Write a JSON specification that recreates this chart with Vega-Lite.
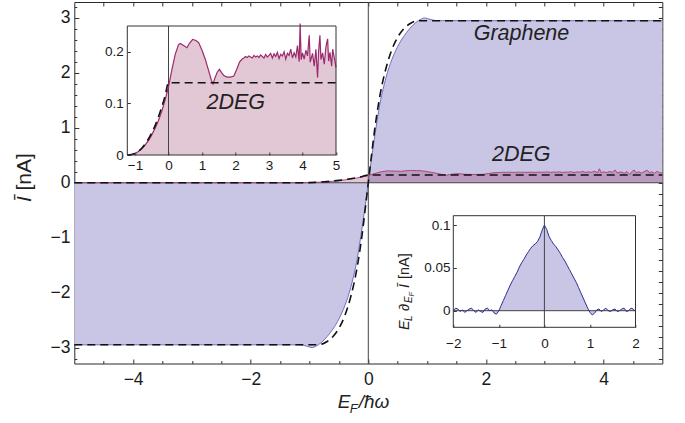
{
  "$schema": "https://vega.github.io/schema/vega-lite/v6.json",
  "width": 588,
  "height": 361.5,
  "autosize": "none",
  "padding": {"left": 74.3, "top": 2, "right": 22.7, "bottom": 59.5},
  "config": {
    "view": {"stroke": "#2a2a2a", "strokeWidth": 1},
    "axis": {"grid": false, "labelFont": "Liberation Sans", "labelColor": "#1a1a1a", "tickColor": "#333333", "domainColor": "#333333", "labelFlush": false, "labelOverlap": false, "labelBound": false}
  },
  "datasets": {
    "gr": [
      {"x": -5, "y": -2.95}, {"x": -1.2, "y": -2.95}, {"x": -1.1, "y": -2.96}, {"x": -1.0, "y": -2.99}, {"x": -0.95, "y": -3.0}, {"x": -0.9, "y": -2.98}, {"x": -0.8, "y": -2.91}, {"x": -0.7, "y": -2.8}, {"x": -0.6, "y": -2.66}, {"x": -0.5, "y": -2.48}, {"x": -0.4, "y": -2.24}, {"x": -0.35, "y": -2.09}, {"x": -0.3, "y": -1.91}, {"x": -0.25, "y": -1.7}, {"x": -0.2, "y": -1.45}, {"x": -0.15, "y": -1.13}, {"x": -0.1, "y": -0.78}, {"x": -0.05, "y": -0.4},
      {"x": 0, "y": 0},
      {"x": 0.05, "y": 0.4}, {"x": 0.1, "y": 0.78}, {"x": 0.15, "y": 1.13}, {"x": 0.2, "y": 1.45}, {"x": 0.25, "y": 1.7}, {"x": 0.3, "y": 1.91}, {"x": 0.35, "y": 2.09}, {"x": 0.4, "y": 2.24}, {"x": 0.5, "y": 2.48}, {"x": 0.6, "y": 2.66}, {"x": 0.7, "y": 2.8}, {"x": 0.8, "y": 2.91}, {"x": 0.9, "y": 2.98}, {"x": 0.95, "y": 3.0}, {"x": 1.0, "y": 2.99}, {"x": 1.1, "y": 2.96}, {"x": 1.2, "y": 2.95}, {"x": 5, "y": 2.95}
    ],
    "grfit": [
      {"x": -5, "y": -2.95}, {"x": -0.9, "y": -2.95}, {"x": -0.8, "y": -2.94}, {"x": -0.7, "y": -2.89}, {"x": -0.6, "y": -2.8}, {"x": -0.5, "y": -2.65}, {"x": -0.4, "y": -2.42}, {"x": -0.3, "y": -2.08}, {"x": -0.2, "y": -1.6}, {"x": -0.15, "y": -1.28}, {"x": -0.1, "y": -0.9}, {"x": -0.05, "y": -0.46},
      {"x": 0, "y": 0},
      {"x": 0.05, "y": 0.46}, {"x": 0.1, "y": 0.9}, {"x": 0.15, "y": 1.28}, {"x": 0.2, "y": 1.6}, {"x": 0.3, "y": 2.08}, {"x": 0.4, "y": 2.42}, {"x": 0.5, "y": 2.65}, {"x": 0.6, "y": 2.8}, {"x": 0.7, "y": 2.89}, {"x": 0.8, "y": 2.94}, {"x": 0.9, "y": 2.95}, {"x": 5, "y": 2.95}
    ],
    "deg": [
      {"x": -5, "y": 0}, {"x": -1.5, "y": 0}, {"x": -1.23, "y": 0}, {"x": -1.1, "y": 0.001}, {"x": -1.0, "y": 0.003}, {"x": -0.9, "y": 0.007}, {"x": -0.8, "y": 0.012}, {"x": -0.7, "y": 0.019}, {"x": -0.6, "y": 0.028}, {"x": -0.5, "y": 0.039}, {"x": -0.4, "y": 0.052}, {"x": -0.3, "y": 0.067}, {"x": -0.2, "y": 0.085}, {"x": -0.1, "y": 0.107},
      {"x": 0, "y": 0.132}, {"x": 0.1, "y": 0.165}, {"x": 0.2, "y": 0.195}, {"x": 0.3, "y": 0.214}, {"x": 0.35, "y": 0.216}, {"x": 0.45, "y": 0.212}, {"x": 0.55, "y": 0.208}, {"x": 0.62, "y": 0.216}, {"x": 0.72, "y": 0.224}, {"x": 0.82, "y": 0.222}, {"x": 0.9, "y": 0.218}, {"x": 1.0, "y": 0.203}, {"x": 1.1, "y": 0.185}, {"x": 1.2, "y": 0.163}, {"x": 1.28, "y": 0.145}, {"x": 1.33, "y": 0.138}, {"x": 1.38, "y": 0.148}, {"x": 1.45, "y": 0.16}, {"x": 1.52, "y": 0.166}, {"x": 1.58, "y": 0.16}, {"x": 1.65, "y": 0.154}, {"x": 1.75, "y": 0.151}, {"x": 1.85, "y": 0.151}, {"x": 1.95, "y": 0.153}, {"x": 2.05, "y": 0.168}, {"x": 2.12, "y": 0.18}, {"x": 2.2, "y": 0.186},
      {"x": 2.25, "y": 0.188}, {"x": 2.3, "y": 0.191}, {"x": 2.35, "y": 0.189}, {"x": 2.4, "y": 0.192}, {"x": 2.45, "y": 0.19}, {"x": 2.5, "y": 0.188}, {"x": 2.55, "y": 0.193}, {"x": 2.6, "y": 0.19}, {"x": 2.65, "y": 0.192}, {"x": 2.7, "y": 0.189}, {"x": 2.75, "y": 0.194}, {"x": 2.8, "y": 0.191}, {"x": 2.85, "y": 0.188}, {"x": 2.9, "y": 0.195}, {"x": 2.95, "y": 0.19}, {"x": 3.0, "y": 0.193}, {"x": 3.05, "y": 0.197}, {"x": 3.1, "y": 0.188}, {"x": 3.15, "y": 0.196}, {"x": 3.2, "y": 0.191}, {"x": 3.25, "y": 0.199}, {"x": 3.3, "y": 0.187}, {"x": 3.35, "y": 0.195}, {"x": 3.4, "y": 0.192}, {"x": 3.45, "y": 0.2}, {"x": 3.5, "y": 0.186}, {"x": 3.55, "y": 0.197}, {"x": 3.6, "y": 0.193}, {"x": 3.65, "y": 0.205}, {"x": 3.7, "y": 0.188}, {"x": 3.75, "y": 0.198}, {"x": 3.8, "y": 0.19}, {"x": 3.85, "y": 0.212}, {"x": 3.9, "y": 0.181}, {"x": 3.93, "y": 0.255}, {"x": 3.96, "y": 0.185}, {"x": 4.0, "y": 0.198}, {"x": 4.05, "y": 0.186}, {"x": 4.1, "y": 0.203}, {"x": 4.15, "y": 0.192}, {"x": 4.2, "y": 0.232}, {"x": 4.23, "y": 0.18}, {"x": 4.3, "y": 0.197}, {"x": 4.35, "y": 0.172}, {"x": 4.4, "y": 0.205}, {"x": 4.45, "y": 0.15}, {"x": 4.48, "y": 0.2}, {"x": 4.52, "y": 0.232}, {"x": 4.55, "y": 0.185}, {"x": 4.6, "y": 0.198}, {"x": 4.65, "y": 0.176}, {"x": 4.7, "y": 0.21}, {"x": 4.75, "y": 0.225}, {"x": 4.78, "y": 0.182}, {"x": 4.82, "y": 0.199}, {"x": 4.87, "y": 0.172}, {"x": 4.9, "y": 0.205}, {"x": 4.95, "y": 0.188}, {"x": 5.0, "y": 0.17}
    ],
    "degfit": [
      {"x": -5, "y": 0}, {"x": -1.23, "y": 0}, {"x": -1.1, "y": 0.001}, {"x": -1.0, "y": 0.003}, {"x": -0.9, "y": 0.007}, {"x": -0.8, "y": 0.013}, {"x": -0.7, "y": 0.021}, {"x": -0.6, "y": 0.031}, {"x": -0.5, "y": 0.043}, {"x": -0.4, "y": 0.057}, {"x": -0.3, "y": 0.074}, {"x": -0.2, "y": 0.093}, {"x": -0.1, "y": 0.115}, {"x": 0, "y": 0.14}, {"x": 5, "y": 0.14}
    ],
    "der": [
      {"x": -2.0, "y": 0.0}, {"x": -1.95, "y": 0.003}, {"x": -1.9, "y": 0.002}, {"x": -1.85, "y": -0.001}, {"x": -1.8, "y": 0.001}, {"x": -1.75, "y": -0.002}, {"x": -1.7, "y": 0.0}, {"x": -1.65, "y": 0.002}, {"x": -1.6, "y": 0.003}, {"x": -1.55, "y": 0.0}, {"x": -1.5, "y": -0.002}, {"x": -1.45, "y": 0.001}, {"x": -1.4, "y": -0.001}, {"x": -1.35, "y": -0.002}, {"x": -1.3, "y": 0.002}, {"x": -1.25, "y": 0.003}, {"x": -1.2, "y": 0.0}, {"x": -1.15, "y": 0.001}, {"x": -1.1, "y": -0.003}, {"x": -1.05, "y": -0.004}, {"x": -1.0, "y": 0.0}, {"x": -0.95, "y": 0.006}, {"x": -0.9, "y": 0.012}, {"x": -0.85, "y": 0.018}, {"x": -0.8, "y": 0.024}, {"x": -0.75, "y": 0.03}, {"x": -0.7, "y": 0.035}, {"x": -0.65, "y": 0.04}, {"x": -0.6, "y": 0.045}, {"x": -0.55, "y": 0.051}, {"x": -0.5, "y": 0.056}, {"x": -0.45, "y": 0.06}, {"x": -0.4, "y": 0.065}, {"x": -0.35, "y": 0.069}, {"x": -0.3, "y": 0.073}, {"x": -0.25, "y": 0.076}, {"x": -0.2, "y": 0.078}, {"x": -0.15, "y": 0.081}, {"x": -0.1, "y": 0.086}, {"x": -0.05, "y": 0.094}, {"x": 0.0, "y": 0.1}, {"x": 0.05, "y": 0.095}, {"x": 0.1, "y": 0.087}, {"x": 0.15, "y": 0.082}, {"x": 0.2, "y": 0.078}, {"x": 0.25, "y": 0.075}, {"x": 0.3, "y": 0.071}, {"x": 0.35, "y": 0.067}, {"x": 0.4, "y": 0.062}, {"x": 0.45, "y": 0.058}, {"x": 0.5, "y": 0.053}, {"x": 0.55, "y": 0.048}, {"x": 0.6, "y": 0.043}, {"x": 0.65, "y": 0.038}, {"x": 0.7, "y": 0.033}, {"x": 0.75, "y": 0.027}, {"x": 0.8, "y": 0.021}, {"x": 0.85, "y": 0.015}, {"x": 0.9, "y": 0.009}, {"x": 0.95, "y": 0.003}, {"x": 1.0, "y": -0.002}, {"x": 1.05, "y": -0.005}, {"x": 1.1, "y": -0.003}, {"x": 1.15, "y": 0.001}, {"x": 1.2, "y": 0.002}, {"x": 1.25, "y": -0.001}, {"x": 1.3, "y": 0.001}, {"x": 1.35, "y": 0.003}, {"x": 1.4, "y": 0.0}, {"x": 1.45, "y": -0.001}, {"x": 1.5, "y": 0.001}, {"x": 1.55, "y": 0.002}, {"x": 1.6, "y": -0.001}, {"x": 1.65, "y": 0.0}, {"x": 1.7, "y": 0.002}, {"x": 1.75, "y": 0.003}, {"x": 1.8, "y": -0.001}, {"x": 1.85, "y": 0.0}, {"x": 1.9, "y": 0.003}, {"x": 1.95, "y": 0.002}, {"x": 2.0, "y": -0.001}
    ]
  },
  "layer": [
    {
      "layer": [
        {
          "data": {"name": "gr"},
          "mark": {"type": "area", "color": "#c9c5e5", "interpolate": "monotone"},
          "encoding": {
            "x": {"field": "x", "type": "quantitative", "scale": {"domain": [-5, 5], "nice": false, "zero": false},
              "axis": {"orient": "bottom", "title": null, "domain": false, "values": [-4, -2, 0, 2, 4], "format": "d", "labelOverlap": false, "labelFlush": false, "tickSize": -4.5, "labelPadding": 11.4, "labelFontSize": 17.5}},
            "y": {"field": "y", "type": "quantitative", "scale": {"domain": [-3.29, 3.29], "nice": false, "zero": false},
              "axis": {"orient": "left", "title": null, "domain": false, "values": [-3, -2, -1, 0, 1, 2, 3], "format": "d", "labelOverlap": false, "labelFlush": false, "tickSize": -4.5, "labelPadding": 8.8, "labelFontSize": 17.5}},
            "y2": {"datum": 0}
          }
        },
        {
          "data": {"name": "deg"},
          "mark": {"type": "area", "color": "#8c1e55", "opacity": 0.25},
          "encoding": {
            "x": {"field": "x", "type": "quantitative", "scale": {"domain": [-5, 5], "nice": false, "zero": false}},
            "y": {"field": "y", "type": "quantitative", "scale": {"domain": [-3.29, 3.29], "nice": false, "zero": false}},
            "y2": {"datum": 0}
          }
        },
        {
          "data": {"values": [{}]},
          "mark": {"type": "rule", "color": "#444444", "strokeWidth": 1},
          "encoding": {
            "x": {"datum": 0, "type": "quantitative", "scale": {"domain": [-5, 5], "nice": false, "zero": false}},
            "y": {"datum": -3.29, "type": "quantitative", "scale": {"domain": [-3.29, 3.29], "nice": false, "zero": false}},
            "y2": {"datum": 3.29}
          }
        },
        {
          "data": {"values": [{}]},
          "mark": {"type": "rule", "color": "#444444", "strokeWidth": 1},
          "encoding": {
            "x": {"datum": -5, "type": "quantitative", "scale": {"domain": [-5, 5], "nice": false, "zero": false}},
            "x2": {"datum": 5},
            "y": {"datum": 0, "type": "quantitative", "scale": {"domain": [-3.29, 3.29], "nice": false, "zero": false}}
          }
        },
        {
          "data": {"name": "gr"},
          "mark": {"type": "line", "color": "#6f6fc4", "strokeWidth": 1, "interpolate": "monotone"},
          "encoding": {
            "x": {"field": "x", "type": "quantitative", "scale": {"domain": [-5, 5], "nice": false, "zero": false}},
            "y": {"field": "y", "type": "quantitative", "scale": {"domain": [-3.29, 3.29], "nice": false, "zero": false}}
          }
        },
        {
          "data": {"name": "deg"},
          "mark": {"type": "line", "color": "#b2457f", "strokeWidth": 1},
          "encoding": {
            "x": {"field": "x", "type": "quantitative", "scale": {"domain": [-5, 5], "nice": false, "zero": false}},
            "y": {"field": "y", "type": "quantitative", "scale": {"domain": [-3.29, 3.29], "nice": false, "zero": false}}
          }
        },
        {
          "data": {"name": "grfit"},
          "mark": {"type": "line", "color": "#111111", "strokeWidth": 1.6, "strokeDash": [8, 5], "interpolate": "monotone"},
          "encoding": {
            "x": {"field": "x", "type": "quantitative", "scale": {"domain": [-5, 5], "nice": false, "zero": false}},
            "y": {"field": "y", "type": "quantitative", "scale": {"domain": [-3.29, 3.29], "nice": false, "zero": false}}
          }
        },
        {
          "data": {"name": "degfit"},
          "mark": {"type": "line", "color": "#111111", "strokeWidth": 1.6, "strokeDash": [8, 5], "interpolate": "monotone"},
          "encoding": {
            "x": {"field": "x", "type": "quantitative", "scale": {"domain": [-5, 5], "nice": false, "zero": false}},
            "y": {"field": "y", "type": "quantitative", "scale": {"domain": [-3.29, 3.29], "nice": false, "zero": false}}
          }
        },
        {
          "data": {"values": [{}]},
          "mark": {"type": "text", "text": "Graphene", "font": "Liberation Sans", "fontStyle": "italic", "fontSize": 21.5, "color": "#222222", "align": "center", "baseline": "alphabetic"},
          "encoding": {
            "x": {"datum": 2.605, "type": "quantitative", "scale": {"domain": [-5, 5], "nice": false, "zero": false}},
            "y": {"datum": 2.598, "type": "quantitative", "scale": {"domain": [-3.29, 3.29], "nice": false, "zero": false}}
          }
        },
        {
          "data": {"values": [{}]},
          "mark": {"type": "text", "text": "2DEG", "font": "Liberation Sans", "fontStyle": "italic", "fontSize": 21.5, "color": "#222222", "align": "center", "baseline": "alphabetic"},
          "encoding": {
            "x": {"datum": 2.602, "type": "quantitative", "scale": {"domain": [-5, 5], "nice": false, "zero": false}},
            "y": {"datum": 0.396, "type": "quantitative", "scale": {"domain": [-3.29, 3.29], "nice": false, "zero": false}}
          }
        },
        {
          "data": {"values": [{}]},
          "mark": {"type": "text", "text": "E", "font": "Liberation Sans", "fontStyle": "italic", "fontSize": 19, "color": "#222222", "align": "left", "baseline": "alphabetic"},
          "encoding": {
            "x": {"datum": -0.52, "type": "quantitative", "scale": {"domain": [-5, 5], "nice": false, "zero": false}},
            "y": {"datum": -4.109, "type": "quantitative", "scale": {"domain": [-3.29, 3.29], "nice": false, "zero": false}}
          }
        },
        {
          "data": {"values": [{}]},
          "mark": {"type": "text", "text": "F", "font": "Liberation Sans", "fontStyle": "italic", "fontSize": 13, "color": "#222222", "align": "left", "baseline": "alphabetic", "dx": 12, "dy": 4.5},
          "encoding": {
            "x": {"datum": -0.52, "type": "quantitative", "scale": {"domain": [-5, 5], "nice": false, "zero": false}},
            "y": {"datum": -4.109, "type": "quantitative", "scale": {"domain": [-3.29, 3.29], "nice": false, "zero": false}}
          }
        },
        {
          "data": {"values": [{}]},
          "mark": {"type": "text", "text": "/ħω", "font": "Liberation Sans", "fontStyle": "italic", "fontSize": 19, "color": "#222222", "align": "left", "baseline": "alphabetic", "dx": 21},
          "encoding": {
            "x": {"datum": -0.52, "type": "quantitative", "scale": {"domain": [-5, 5], "nice": false, "zero": false}},
            "y": {"datum": -4.109, "type": "quantitative", "scale": {"domain": [-3.29, 3.29], "nice": false, "zero": false}}
          }
        },
        {
          "data": {"values": [{}]},
          "mark": {"type": "text", "text": "Ī", "font": "Liberation Sans", "fontStyle": "italic", "fontSize": 21, "color": "#222222", "align": "left", "baseline": "alphabetic", "angle": 270},
          "encoding": {
            "x": {"datum": -5.736, "type": "quantitative", "scale": {"domain": [-5, 5], "nice": false, "zero": false}},
            "y": {"datum": -0.35, "type": "quantitative", "scale": {"domain": [-3.29, 3.29], "nice": false, "zero": false}}
          }
        },
        {
          "data": {"values": [{}]},
          "mark": {"type": "text", "text": "[nA]", "font": "Liberation Sans", "fontSize": 21, "color": "#222222", "align": "left", "baseline": "alphabetic", "angle": 270, "dx": 11.5},
          "encoding": {
            "x": {"datum": -5.736, "type": "quantitative", "scale": {"domain": [-5, 5], "nice": false, "zero": false}},
            "y": {"datum": -0.35, "type": "quantitative", "scale": {"domain": [-3.29, 3.29], "nice": false, "zero": false}}
          }
        }
      ]
    },
    {
      "data": {"name": "gr"},
      "mark": {"type": "point", "opacity": 0},
      "encoding": {
        "x": {"field": "x", "type": "quantitative", "scale": {"domain": [-5, 5], "nice": false, "zero": false},
          "axis": {"orient": "top", "title": null, "domain": false, "labels": false, "values": [-4.5, -4, -3.5, -3, -2.5, -2, -1.5, -1, -0.5, 0, 0.5, 1, 1.5, 2, 2.5, 3, 3.5, 4, 4.5], "tickSize": -4}},
        "y": {"field": "y", "type": "quantitative", "scale": {"domain": [-3.29, 3.29], "nice": false, "zero": false},
          "axis": {"orient": "right", "title": null, "domain": false, "labels": false, "values": [-3.2, -3, -2.8, -2.6, -2.4, -2.2, -2, -1.8, -1.6, -1.4, -1.2, -1, -0.8, -0.6, -0.4, -0.2, 0, 0.2, 0.4, 0.6, 0.8, 1, 1.2, 1.4, 1.6, 1.8, 2, 2.2, 2.4, 2.6, 2.8, 3, 3.2], "tickSize": -4}}
      }
    },
    {
      "data": {"name": "gr"},
      "mark": {"type": "point", "opacity": 0},
      "encoding": {
        "x": {"field": "x", "type": "quantitative", "scale": {"domain": [-5, 5], "nice": false, "zero": false},
          "axis": {"orient": "bottom", "title": null, "domain": false, "labels": false, "values": [-4.5, -3.5, -3, -2.5, -1.5, -1, -0.5, 0.5, 1, 1.5, 2.5, 3, 3.5, 4.5], "tickSize": -3}},
        "y": {"field": "y", "type": "quantitative", "scale": {"domain": [-3.29, 3.29], "nice": false, "zero": false},
          "axis": {"orient": "left", "title": null, "domain": false, "labels": false, "values": [-3.2, -2.8, -2.6, -2.4, -2.2, -1.8, -1.6, -1.4, -1.2, -0.8, -0.6, -0.4, -0.2, 0.2, 0.4, 0.6, 0.8, 1.2, 1.4, 1.6, 1.8, 2.2, 2.4, 2.6, 2.8, 3.2], "tickSize": -2.5}}
      }
    },
    {
      "layer": [
        {
          "data": {"name": "deg"},
          "transform": [{"filter": "datum.x >= -1.23"}],
          "mark": {"type": "area", "color": "#8c1e55", "opacity": 0.25},
          "encoding": {
            "x": {"field": "x", "type": "quantitative", "scale": {"domain": [-1.23, 5], "range": [53, 261.7], "nice": false, "zero": false},
              "axis": {"orient": "bottom", "offset": -208.5, "title": null, "domain": false, "values": [-1, 0, 1, 2, 3, 4, 5], "labelExpr": "format(datum.value, '~g')", "labelOverlap": false, "labelFlush": false, "tickSize": -3, "labelPadding": 6.3, "labelFontSize": 13.5}},
            "y": {"field": "y", "type": "quantitative", "scale": {"domain": [0, 0.25], "range": [153, 24], "nice": false, "zero": false},
              "axis": {"orient": "left", "offset": -53, "title": null, "domain": false, "values": [0, 0.1, 0.2], "labelExpr": "format(datum.value, '~g')", "labelOverlap": false, "labelFlush": false, "tickSize": -3, "labelPadding": 7, "labelFontSize": 13.5}},
            "y2": {"datum": 0}
          }
        },
        {
          "data": {"values": [{}]},
          "mark": {"type": "rule", "color": "#444444", "strokeWidth": 1},
          "encoding": {
            "x": {"datum": 0, "type": "quantitative", "scale": {"domain": [-1.23, 5], "range": [53, 261.7], "nice": false, "zero": false}},
            "y": {"datum": 0, "type": "quantitative", "scale": {"domain": [0, 0.25], "range": [153, 24], "nice": false, "zero": false}},
            "y2": {"datum": 0.25}
          }
        },
        {
          "data": {"name": "deg"},
          "transform": [{"filter": "datum.x >= -1.23"}],
          "mark": {"type": "line", "color": "#9c2a6c", "strokeWidth": 1.2},
          "encoding": {
            "x": {"field": "x", "type": "quantitative", "scale": {"domain": [-1.23, 5], "range": [53, 261.7], "nice": false, "zero": false}},
            "y": {"field": "y", "type": "quantitative", "scale": {"domain": [0, 0.25], "range": [153, 24], "nice": false, "zero": false}}
          }
        },
        {
          "data": {"name": "degfit"},
          "transform": [{"filter": "datum.x >= -1.23"}],
          "mark": {"type": "line", "color": "#111111", "strokeWidth": 1.6, "strokeDash": [8, 5], "interpolate": "monotone"},
          "encoding": {
            "x": {"field": "x", "type": "quantitative", "scale": {"domain": [-1.23, 5], "range": [53, 261.7], "nice": false, "zero": false}},
            "y": {"field": "y", "type": "quantitative", "scale": {"domain": [0, 0.25], "range": [153, 24], "nice": false, "zero": false}}
          }
        },
        {
          "data": {"values": [{}]},
          "mark": {"type": "rect", "fill": null, "fillOpacity": 0, "stroke": "#333333", "strokeWidth": 1},
          "encoding": {
            "x": {"datum": -1.23, "type": "quantitative", "scale": {"domain": [-1.23, 5], "range": [53, 261.7], "nice": false, "zero": false}},
            "x2": {"datum": 5},
            "y": {"datum": 0, "type": "quantitative", "scale": {"domain": [0, 0.25], "range": [153, 24], "nice": false, "zero": false}},
            "y2": {"datum": 0.25}
          }
        },
        {
          "data": {"values": [{}]},
          "mark": {"type": "text", "text": "2DEG", "font": "Liberation Sans", "fontStyle": "italic", "fontSize": 21.5, "color": "#222222", "align": "center", "baseline": "alphabetic"},
          "encoding": {
            "x": {"datum": 2.009, "type": "quantitative", "scale": {"domain": [-1.23, 5], "range": [53, 261.7], "nice": false, "zero": false}},
            "y": {"datum": 0.0891, "type": "quantitative", "scale": {"domain": [0, 0.25], "range": [153, 24], "nice": false, "zero": false}}
          }
        }
      ]
    },
    {
      "layer": [
        {
          "data": {"name": "der"},
          "mark": {"type": "area", "color": "#c9c5e5"},
          "encoding": {
            "x": {"field": "x", "type": "quantitative", "scale": {"domain": [-2, 2], "range": [379, 561.2], "nice": false, "zero": false},
              "axis": {"orient": "bottom", "offset": -36.2, "title": null, "domain": false, "values": [-2, -1, 0, 1, 2], "labelExpr": "format(datum.value, '~g')", "labelOverlap": false, "labelFlush": false, "tickSize": -3, "labelPadding": 11.9, "labelFontSize": 13.5}},
            "y": {"field": "y", "type": "quantitative", "scale": {"domain": [-0.0194, 0.111], "range": [325.3, 213.7], "nice": false, "zero": false},
              "axis": {"orient": "left", "offset": -379, "title": null, "domain": false, "values": [0, 0.05, 0.1], "labelExpr": "format(datum.value, '~g')", "labelOverlap": false, "labelFlush": false, "tickSize": -3, "labelPadding": 6.3, "labelFontSize": 13.5}},
            "y2": {"datum": 0}
          }
        },
        {
          "data": {"values": [{}]},
          "mark": {"type": "rule", "color": "#444444", "strokeWidth": 1},
          "encoding": {
            "x": {"datum": 0, "type": "quantitative", "scale": {"domain": [-2, 2], "range": [379, 561.2], "nice": false, "zero": false}},
            "y": {"datum": -0.0194, "type": "quantitative", "scale": {"domain": [-0.0194, 0.111], "range": [325.3, 213.7], "nice": false, "zero": false}},
            "y2": {"datum": 0.111}
          }
        },
        {
          "data": {"values": [{}]},
          "mark": {"type": "rule", "color": "#444444", "strokeWidth": 1},
          "encoding": {
            "x": {"datum": -2, "type": "quantitative", "scale": {"domain": [-2, 2], "range": [379, 561.2], "nice": false, "zero": false}},
            "x2": {"datum": 2},
            "y": {"datum": 0, "type": "quantitative", "scale": {"domain": [-0.0194, 0.111], "range": [325.3, 213.7], "nice": false, "zero": false}}
          }
        },
        {
          "data": {"name": "der"},
          "mark": {"type": "line", "color": "#2e2e96", "strokeWidth": 1},
          "encoding": {
            "x": {"field": "x", "type": "quantitative", "scale": {"domain": [-2, 2], "range": [379, 561.2], "nice": false, "zero": false}},
            "y": {"field": "y", "type": "quantitative", "scale": {"domain": [-0.0194, 0.111], "range": [325.3, 213.7], "nice": false, "zero": false}}
          }
        },
        {
          "data": {"values": [{}]},
          "mark": {"type": "rect", "fill": null, "fillOpacity": 0, "stroke": "#333333", "strokeWidth": 1},
          "encoding": {
            "x": {"datum": -2, "type": "quantitative", "scale": {"domain": [-2, 2], "range": [379, 561.2], "nice": false, "zero": false}},
            "x2": {"datum": 2},
            "y": {"datum": -0.0194, "type": "quantitative", "scale": {"domain": [-0.0194, 0.111], "range": [325.3, 213.7], "nice": false, "zero": false}},
            "y2": {"datum": 0.111}
          }
        },
        {
          "data": {"values": [{}]},
          "mark": {"type": "text", "text": "E", "font": "Liberation Sans", "fontStyle": "italic", "fontSize": 14.5, "color": "#222222", "align": "left", "baseline": "alphabetic", "angle": 270},
          "encoding": {
            "x": {"datum": -2.973, "type": "quantitative", "scale": {"domain": [-2, 2], "range": [379, 561.2], "nice": false, "zero": false}},
            "y": {"datum": -0.0226, "type": "quantitative", "scale": {"domain": [-0.0194, 0.111], "range": [325.3, 213.7], "nice": false, "zero": false}}
          }
        },
        {
          "data": {"values": [{}]},
          "mark": {"type": "text", "text": "L", "font": "Liberation Sans", "fontStyle": "italic", "fontSize": 10, "color": "#222222", "align": "left", "baseline": "alphabetic", "angle": 270, "dx": 9, "dy": 3},
          "encoding": {
            "x": {"datum": -2.973, "type": "quantitative", "scale": {"domain": [-2, 2], "range": [379, 561.2], "nice": false, "zero": false}},
            "y": {"datum": -0.0226, "type": "quantitative", "scale": {"domain": [-0.0194, 0.111], "range": [325.3, 213.7], "nice": false, "zero": false}}
          }
        },
        {
          "data": {"values": [{}]},
          "mark": {"type": "text", "text": "∂", "font": "Liberation Sans", "fontSize": 14.5, "color": "#222222", "align": "left", "baseline": "alphabetic", "angle": 270, "dx": 19},
          "encoding": {
            "x": {"datum": -2.973, "type": "quantitative", "scale": {"domain": [-2, 2], "range": [379, 561.2], "nice": false, "zero": false}},
            "y": {"datum": -0.0226, "type": "quantitative", "scale": {"domain": [-0.0194, 0.111], "range": [325.3, 213.7], "nice": false, "zero": false}}
          }
        },
        {
          "data": {"values": [{}]},
          "mark": {"type": "text", "text": "E", "font": "Liberation Sans", "fontStyle": "italic", "fontSize": 10, "color": "#222222", "align": "left", "baseline": "alphabetic", "angle": 270, "dx": 27, "dy": 3},
          "encoding": {
            "x": {"datum": -2.973, "type": "quantitative", "scale": {"domain": [-2, 2], "range": [379, 561.2], "nice": false, "zero": false}},
            "y": {"datum": -0.0226, "type": "quantitative", "scale": {"domain": [-0.0194, 0.111], "range": [325.3, 213.7], "nice": false, "zero": false}}
          }
        },
        {
          "data": {"values": [{}]},
          "mark": {"type": "text", "text": "F", "font": "Liberation Sans", "fontStyle": "italic", "fontSize": 7.5, "color": "#222222", "align": "left", "baseline": "alphabetic", "angle": 270, "dx": 33.5, "dy": 5},
          "encoding": {
            "x": {"datum": -2.973, "type": "quantitative", "scale": {"domain": [-2, 2], "range": [379, 561.2], "nice": false, "zero": false}},
            "y": {"datum": -0.0226, "type": "quantitative", "scale": {"domain": [-0.0194, 0.111], "range": [325.3, 213.7], "nice": false, "zero": false}}
          }
        },
        {
          "data": {"values": [{}]},
          "mark": {"type": "text", "text": "Ī", "font": "Liberation Sans", "fontStyle": "italic", "fontSize": 14.5, "color": "#222222", "align": "left", "baseline": "alphabetic", "angle": 270, "dx": 42},
          "encoding": {
            "x": {"datum": -2.973, "type": "quantitative", "scale": {"domain": [-2, 2], "range": [379, 561.2], "nice": false, "zero": false}},
            "y": {"datum": -0.0226, "type": "quantitative", "scale": {"domain": [-0.0194, 0.111], "range": [325.3, 213.7], "nice": false, "zero": false}}
          }
        },
        {
          "data": {"values": [{}]},
          "mark": {"type": "text", "text": "[nA]", "font": "Liberation Sans", "fontSize": 14.5, "color": "#222222", "align": "left", "baseline": "alphabetic", "angle": 270, "dx": 51},
          "encoding": {
            "x": {"datum": -2.973, "type": "quantitative", "scale": {"domain": [-2, 2], "range": [379, 561.2], "nice": false, "zero": false}},
            "y": {"datum": -0.0226, "type": "quantitative", "scale": {"domain": [-0.0194, 0.111], "range": [325.3, 213.7], "nice": false, "zero": false}}
          }
        }
      ]
    }
  ],
  "resolve": {"scale": {"x": "independent", "y": "independent"}, "axis": {"x": "independent", "y": "independent"}}
}
